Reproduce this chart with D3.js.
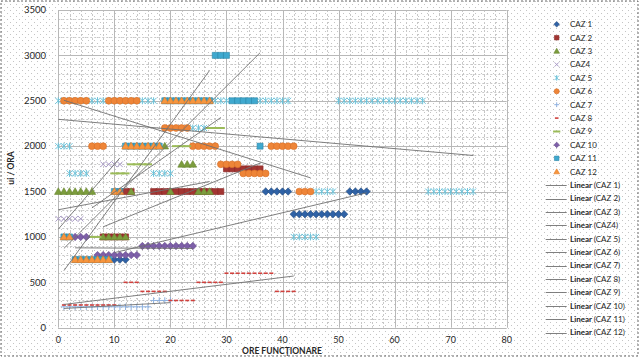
<!DOCTYPE html>
<html><head><meta charset="utf-8">
<script src="https://cdn.jsdelivr.net/npm/d3@7"></script>
<style>html,body{margin:0;padding:0;background:#fff;}svg{display:block;font-family:Lato,'Open Sans',sans-serif;}</style>
</head><body><svg id="c" width="639" height="357"></svg>
<script>
// ---------- DATA ----------
const seriesNames = ["CAZ 1","CAZ 2","CAZ 3","CAZ4","CAZ 5","CAZ 6","CAZ 7","CAZ 8","CAZ 9","CAZ 10","CAZ 11","CAZ 12"];
const xTicks = [0,10,20,30,40,50,60,70,80];
const yTicks = [0,500,1000,1500,2000,2500,3000,3500];
const xTitle = "ORE FUNCŢIONARE";
const yTitle = "ui / ORA";

const caz1 = [[10,750],[11,750],[12,750],[37,1500],[38,1500],[39,1500],[40,1500],[41,1500],
  [42,1250],[43,1250],[44,1250],[45,1250],[46,1250],[47,1250],[48,1250],[49,1250],[50,1250],[51,1250],
  [52,1500],[53,1500],[54,1500],[55,1500]];
const caz2 = [[8,1000],[9,1000],[10,1000],[11,1000],[12,1000],[12,1500],[13,1500],
  [17,1500],[18,1500],[19,1500],[20,1500],[21,1500],[22,1500],[23,1500],[24,1500],[25,1500],[26,1500],[27,1500],[28,1500],[29,1500],
  [30,1750],[31,1750],[32,1750],[33,1750],[34,1750],[35,1750],[36,1750]];
const caz3 = [[0,1500],[1,1500],[2,1500],[3,1500],[4,1500],[5,1500],[6,1500],
  [8,1000],[9,1000],[10,1000],[11,1000],[12,1000],[13,1500],[19,2000],[20,1500],
  [22,1800],[23,1800],[24,1800],[25,1500],[26,1500],[27,1500]];
const caz4 = [[0,1200],[1,1200],[2,1200],[3,1200],[4,1200],[8,1800],[9,1800],[10,1800],[11,1800]];
const caz5 = [[0,2500],[1,2500],[2,2500],[3,2500],[4,2500],
  [0,2000],[1,2000],[2,2000],[2,1700],[3,1700],[4,1700],[5,1700],[5,2500],[6,2500],[7,2500],
  [8,2500],[9,2500],[10,2500],[11,2500],[12,2500],[13,2500],[14,2500],
  [15,2500],[16,2500],[17,2500],[17,1700],[18,1700],[19,1700],[20,1700],[24,2200],[25,2200],[26,2200],
  [28,2500],[29,2500],[30,2500],[36,2500],[37,2500],[38,2500],[39,2500],[40,2500],[41,2500],
  [42,1000],[43,1000],[44,1000],[45,1000],[46,1000],[46,1500],[47,1500],[48,1500],[49,1500],
  [50,2500],[51,2500],[52,2500],[53,2500],[54,2500],[55,2500],[56,2500],[57,2500],[58,2500],[59,2500],
  [60,2500],[61,2500],[62,2500],[63,2500],[64,2500],[65,2500],
  [66,1500],[67,1500],[68,1500],[69,1500],[70,1500],[71,1500],[72,1500],[73,1500],[74,1500]];
const caz6 = [[1,2500],[2,2500],[3,2500],[4,2500],[5,2500],[6,2000],[7,2000],[8,2000],
  [9,2500],[10,2500],[11,2500],[12,2500],[13,2500],[14,2500],
  [19,2200],[20,2200],[21,2200],[22,2200],[23,2200],[24,2000],[25,2000],[26,2000],[27,2000],[28,2000],
  [29,1800],[30,1800],[31,1800],[32,1800],[33,1700],[34,1700],[35,1700],[36,1700],[37,1700],
  [38,2000],[39,2000],[40,2000],[41,2000],[42,2000],[43,1500],[44,1500],[45,1500]];
const caz7 = [[1,230],[2,230],[3,230],[4,230],[5,230],[6,230],[7,230],[8,230],[9,230],[10,230],
  [11,230],[12,230],[13,230],[14,230],[15,230],[16,230],[17,300],[18,300],[19,300],[20,300]];
const caz8 = [[1,250],[2,250],[3,250],[4,250],[5,250],[6,250],[7,250],[8,250],[9,250],[10,250],
  [12,500],[13,500],[14,500],[15,400],[16,400],[17,400],[18,400],[19,400],
  [20,300],[21,300],[22,300],[23,300],[24,300],[25,500],[26,500],[27,500],[28,500],[29,500],
  [30,600],[31,600],[32,600],[33,600],[34,600],[35,600],[36,600],[37,600],[38,600],
  [39,400],[40,400],[41,400],[42,400]];
const caz9 = [[6,1000],[7,1000],[10,1700],[11,1700],[12,1700],[13,1800],[14,1800],[15,1800],[16,1800],
  [21,2000],[22,2000],[23,2000],[27,2200],[28,2200],[29,2200]];
const caz10 = [[3,1000],[4,1000],[5,1000],[7,800],[8,800],[9,800],[10,800],[11,800],[12,800],[13,800],[14,800],
  [15,900],[16,900],[17,900],[18,900],[19,900],[20,900],[21,900],[22,900],[23,900],[24,900]];
const caz11 = [[1,1000],[2,1000],[3,750],[4,750],[5,750],[6,750],[7,750],[8,750],[9,750],[10,1500],[11,1500],
  [12,2000],[13,2000],[14,2000],[15,2000],[16,2000],[17,2000],[18,2000],
  [19,2500],[20,2500],[21,2500],[22,2500],[23,2500],[24,2500],[25,2500],[26,2500],[27,2500],
  [28,3000],[29,3000],[30,3000],[31,2500],[32,2500],[33,2500],[34,2500],[35,2500],[36,2000]];
const caz12 = [[1,1000],[2,1000],[3,750],[4,750],[5,750],[6,750],[7,750],[8,750],[9,750],[10,1500],[11,1500],
  [12,2000],[13,2000],[14,2000],[15,2000],[16,2000],[17,2000],[18,2000],
  [19,2500],[20,2500],[21,2500],[22,2500],[23,2500],[24,2500],[25,2500],[26,2500],[27,2500]];
const seriesData = [caz1,caz2,caz3,caz4,caz5,caz6,caz7,caz8,caz9,caz10,caz11,caz12];

// ---------- STYLES ----------
const styles = [
 {shape:'diamond', fill:'#2F62A6', stroke:'#24497a', r:3.7},
 {shape:'square', fill:'#A33532', stroke:'#8a2a28', r:3},
 {shape:'triangle', fill:'#7C9D3D', stroke:'#6a8733', r:3.8},
 {shape:'x', stroke:'#A99BC6', r:2.8},
 {shape:'star', stroke:'#6CC3DA', r:3},
 {shape:'circle', fill:'#EE8538', stroke:'#D66F26', r:3.4},
 {shape:'plus', stroke:'#8EB1E0', r:3.2},
 {shape:'dash', fill:'#D0413D', w:4, h:1.6},
 {shape:'longdash', fill:'#9BBB59', w:8, h:2},
 {shape:'diamond', fill:'#7D5FA8', stroke:'#664a8c', r:3.7},
 {shape:'square', fill:'#3FA9CF', stroke:'#2b87a8', r:3},
 {shape:'triangle', fill:'#F7963F', stroke:'#e07b25', r:3.8}
];
function shapePath(s){
  const r=s.r||3;
  switch(s.shape){
    case 'diamond': return `M0,${-r}L${r},0L0,${r}L${-r},0Z`;
    case 'square': return `M${-r},${-r}H${r}V${r}H${-r}Z`;
    case 'triangle': return `M0,${-r}L${r},${r*0.75}L${-r},${r*0.75}Z`;
    case 'x': return `M${-r},${-r}L${r},${r}M${-r},${r}L${r},${-r}`;
    case 'star': return `M${-r},${-r}L${r},${r}M${-r},${r}L${r},${-r}M0,${-r-0.5}V${r+0.5}`;
    case 'plus': return `M${-r},0H${r}M0,${-r}V${r}`;
    case 'circle': return d3.symbol(d3.symbolCircle, Math.PI*r*r)();
    case 'dash': return `M${-s.w/2},${-s.h/2}h${s.w}v${s.h}h${-s.w}Z`;
    case 'longdash': return `M${-s.w/2},${-s.h/2}h${s.w}v${s.h}h${-s.w}Z`;
  }
}
function applyStyle(sel,s){
  if(['x','star','plus'].includes(s.shape)){
    sel.attr('fill','none').attr('stroke',s.stroke).attr('stroke-width',1);
  } else {
    sel.attr('fill',s.fill).attr('stroke',s.stroke||'none').attr('stroke-width',s.stroke?0.6:0);
  }
}

// ---------- CHART ----------
const svg = d3.select('#c');
const defs = svg.append('defs');
const pat = defs.append('pattern').attr('id','dots').attr('width',6).attr('height',6).attr('patternUnits','userSpaceOnUse');
pat.append('rect').attr('width',6).attr('height',6).attr('fill','#fff');
pat.append('rect').attr('x',1).attr('y',1).attr('width',1).attr('height',1).attr('fill','#c4c4c4');
pat.append('rect').attr('x',4).attr('y',4).attr('width',1).attr('height',1).attr('fill','#c4c4c4');

svg.append('rect').attr('x',0).attr('y',0).attr('width',639).attr('height',357).attr('fill','url(#dots)');
svg.append('rect').attr('x',1).attr('y',1).attr('width',637).attr('height',355)
  .attr('fill','none').attr('stroke','#666').attr('stroke-dasharray','2,2');

const x = d3.scaleLinear().domain([0,80]).range([58.3,506.7]);
const y = d3.scaleLinear().domain([0,3500]).range([327.7,10]);

const grid = svg.append('g');
grid.selectAll('.mx').data(d3.range(0,81,2).filter(v=>v%10)).join('line')
  .attr('x1',d=>Math.round(x(d))+0.5).attr('x2',d=>Math.round(x(d))+0.5).attr('y1',y(3500)).attr('y2',y(0))
  .attr('stroke','#c8c8c8').attr('stroke-dasharray','2,2');
grid.selectAll('.my').data(d3.range(0,3501,100).filter(v=>v%500)).join('line')
  .attr('y1',d=>Math.round(y(d))+0.5).attr('y2',d=>Math.round(y(d))+0.5).attr('x1',x(0)).attr('x2',x(80))
  .attr('stroke','#c8c8c8').attr('stroke-dasharray','2,2');
grid.selectAll('.Mx').data(xTicks).join('line')
  .attr('x1',d=>Math.round(x(d))+0.5).attr('x2',d=>Math.round(x(d))+0.5).attr('y1',y(3500)).attr('y2',y(0))
  .attr('stroke','#b8b8b8');
grid.selectAll('.My').data(yTicks).join('line')
  .attr('y1',d=>Math.round(y(d))+0.5).attr('y2',d=>Math.round(y(d))+0.5).attr('x1',x(0)).attr('x2',x(80))
  .attr('stroke','#b8b8b8');

const txt = '#262626';
svg.append('g').selectAll('text').data(yTicks).join('text')
  .attr('x',46).attr('y',d=>y(d)).attr('dy','0.35em').attr('text-anchor','end')
  .attr('font-size',9.5).attr('fill',txt).text(d=>d);
svg.append('g').selectAll('text').data(xTicks).join('text')
  .attr('x',d=>x(d)).attr('y',340).attr('dy','0.35em').attr('text-anchor','middle')
  .attr('font-size',9).attr('fill',txt).text(d=>d);
svg.append('text').attr('x',282).attr('y',351.5).attr('dy','0.35em').attr('text-anchor','middle')
  .attr('font-size',8.5).attr('font-weight','bold').attr('fill',txt).text(xTitle);
svg.append('text').attr('transform','translate(11,168) rotate(-90)').attr('dy','0.35em').attr('text-anchor','middle')
  .attr('font-size',8.5).attr('font-weight','bold').attr('fill',txt).text(yTitle);

const marks = svg.append('g');
seriesData.forEach((data,i)=>{
  const s = styles[i];
  const p = shapePath(s);
  const sel = marks.append('g').selectAll('path').data(data).join('path')
    .attr('d',p).attr('transform',d=>`translate(${x(d[0])},${y(d[1])})`);
  applyStyle(sel,s);
});

function linreg(data){
  const mx=d3.mean(data,d=>d[0]), my=d3.mean(data,d=>d[1]);
  let sxy=0,sxx=0; data.forEach(d=>{sxy+=(d[0]-mx)*(d[1]-my); sxx+=(d[0]-mx)**2;});
  const b=sxy/sxx, a=my-b*mx;
  const [x0,x1]=d3.extent(data,d=>d[0]);
  return [[x0,a+b*x0],[x1,a+b*x1]];
}
const trend = svg.append('g');
seriesData.forEach(data=>{
  const l = linreg(data);
  trend.append('line').attr('x1',x(l[0][0])).attr('y1',y(l[0][1])).attr('x2',x(l[1][0])).attr('y2',y(l[1][1]))
    .attr('stroke','#707070').attr('stroke-width',0.9);
});

const lg = svg.append('g');
const ly = i => 24.3 + i*13.4;
seriesNames.forEach((n,i)=>{
  const s=styles[i];
  const m = lg.append('path').attr('d',shapePath(Object.assign({},s,{r:(s.r||3)*0.75, w:(s.w||4)*0.9}))).attr('transform',`translate(556.7,${ly(i)})`);
  applyStyle(m,s);
  lg.append('text').attr('x',570).attr('y',ly(i)).attr('dy','0.35em').attr('font-size',8).attr('fill',txt).text(n);
});
seriesNames.forEach((n,i)=>{
  const yy = ly(12+i);
  lg.append('line').attr('x1',545.7).attr('x2',566.7).attr('y1',Math.round(yy)+0.5).attr('y2',Math.round(yy)+0.5)
    .attr('stroke','#707070').attr('stroke-width',0.9);
  const t = lg.append('text').attr('x',570).attr('y',yy).attr('dy','0.35em').attr('font-size',8).attr('fill',txt);
  t.append('tspan').attr('font-weight','bold').text('Linear ');
  t.append('tspan').text(`(${n})`);
});
</script></body></html>
